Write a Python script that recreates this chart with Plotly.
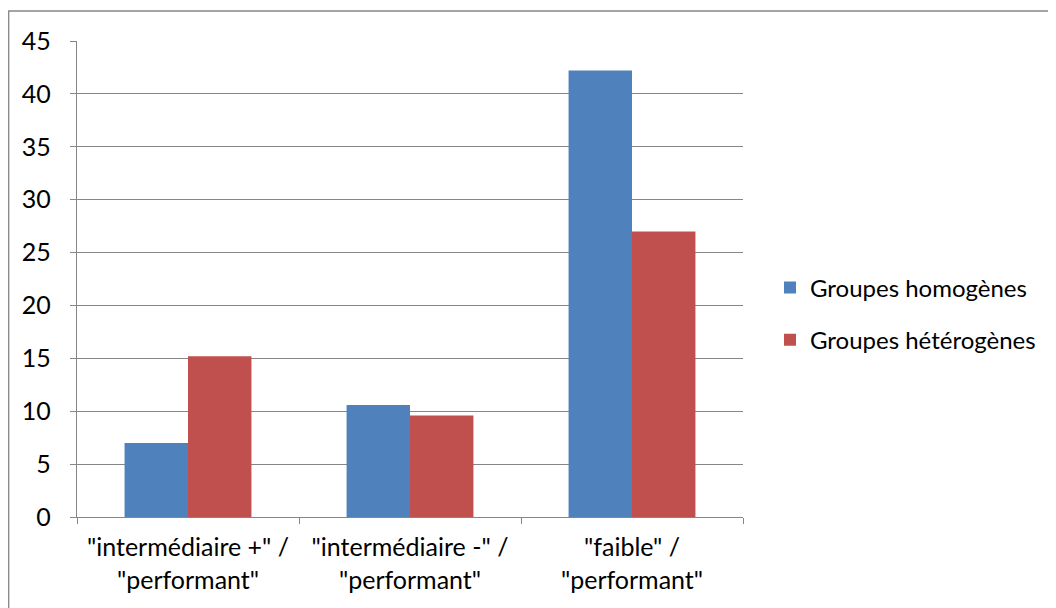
import plotly.graph_objects as go

categories = ['"intermédiaire +" /<br>"performant"', '"intermédiaire -" /<br>"performant"', '"faible" /<br>"performant"']
series_names = ["Groupes homogènes", "Groupes hétérogènes"]
homogenes = [7.0, 10.6, 42.2]
heterogenes = [15.2, 9.6, 27.0]
colors = ["#4F81BD", "#C0504D"]
y_ticks = [0, 5, 10, 15, 20, 25, 30, 35, 40, 45]

FONT = "Lato"
FS = 25
fig = go.Figure()
for i, (name, vals, c) in enumerate(zip(series_names, [homogenes, heterogenes], colors)):
    fig.add_trace(go.Bar(x=categories, y=vals, name=name, legendgroup=f"g{i}",
                         marker=dict(color=c, line=dict(width=0))))

# page is offset by 8px body margin
L, T = 69, 33
W, H = 1056, 608
R = W - 735
B = H - 509
pw, ph = W - L - R, H - T - B

fig.update_layout(
    width=W, height=H,
    margin=dict(l=L, r=R, t=T, b=B),
    paper_bgcolor="white", plot_bgcolor="white",
    barmode="group", bargap=1.5 / 3.5, bargroupgap=0,
    font=dict(family=FONT, size=FS, color="#000000"),
    showlegend=True,
    legend=dict(x=(762 - L) / pw, y=(509 - 306) / ph, xanchor="left", yanchor="middle",
                font=dict(family=FONT, size=24), itemsizing="constant",
                traceorder="grouped", tracegroupgap=18, bgcolor="rgba(0,0,0,0)"),
    xaxis=dict(showgrid=False, showline=True, linecolor="#868686", linewidth=1.3,
               ticks="outside", tickson="boundaries", ticklen=6, tickcolor="#868686",
               tickwidth=1.3, tickfont=dict(family=FONT, size=FS), ticklabelstandoff=8),
    yaxis=dict(range=[0, 45], tickvals=y_ticks, showgrid=True, gridcolor="#868686",
               gridwidth=1.3, showline=True, linecolor="#868686", linewidth=1.3,
               ticks="outside", ticklen=6, tickcolor="#868686", tickwidth=1.3,
               zeroline=False, tickfont=dict(family=FONT, size=FS), ticklabelstandoff=14),
    shapes=[dict(type="rect", xref="paper", yref="paper",
                 x0=(0.7 - L) / pw, x1=(1070 - L) / pw,
                 y0=(H - B - 620) / ph, y1=(H - B - 3) / ph,
                 line=dict(color="#868686", width=1.3), fillcolor="rgba(0,0,0,0)", layer="below")],
)
fig.write_html("out.html")
